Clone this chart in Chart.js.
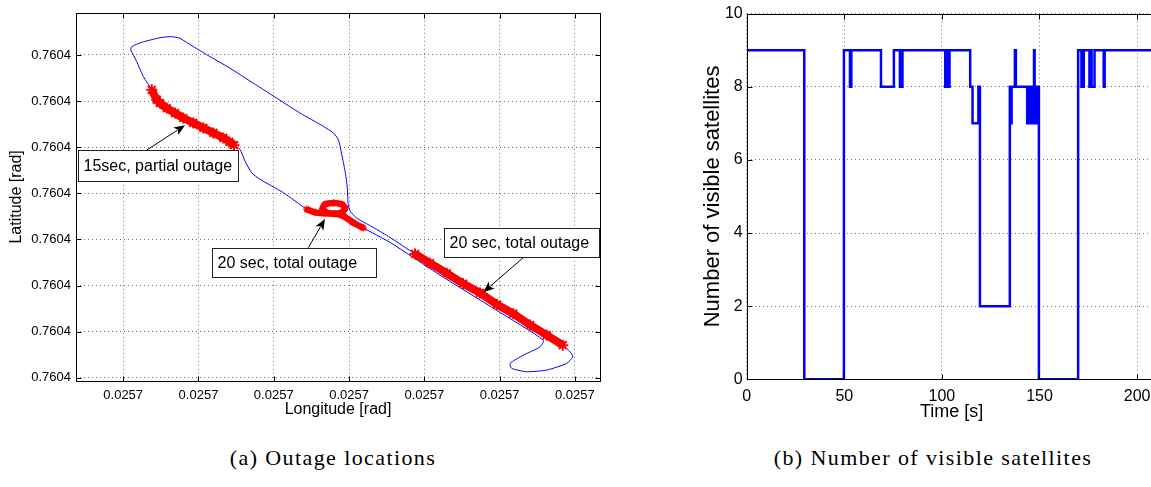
<!DOCTYPE html>
<html lang="en">
<head>
    <meta charset="UTF-8">
    <title>Outage locations and visible satellites</title>
    <script src="https://cdn.jsdelivr.net/npm/chart.js"></script>
    <style>
        html, body { margin: 0; padding: 0; background: #fff; overflow: hidden; }
        body { width: 1151px; height: 487px; position: relative; }
        canvas { position: absolute; top: 0; }
        #trackChart { left: 0; }
        #satChart { left: 680px; }
        .caption { position: absolute; top: 445px; font-family: 'Liberation Serif', 'DejaVu Serif', serif; font-size: 22px; letter-spacing: 1.4px; color: #000; white-space: nowrap; transform: translateX(-50%); }
    </style>
</head>
<body>

    <canvas id="trackChart" width="610" height="440"></canvas>
    <canvas id="satChart" width="500" height="440"></canvas>
    <div class="caption" style="left: 333px;">(a) Outage locations</div>
    <div class="caption" style="left: 933px;">(b) Number of visible satellites</div>

    <script>
        // ---- (a) trajectory, in grid units (lon tick 1..7, lat tick 1..8) ----
        const lonTicks = [1, 2, 3, 4, 5, 6, 7];
        const lonTickLabels = ['0.0257', '0.0257', '0.0257', '0.0257', '0.0257', '0.0257', '0.0257'];
        const latTicks = [1, 2, 3, 4, 5, 6, 7, 8];
        const latTickLabels = ['0.7604', '0.7604', '0.7604', '0.7604', '0.7604', '0.7604', '0.7604', '0.7604'];

        const trackLon = [1.100, 1.113, 1.246, 1.489, 1.644, 1.755, 1.931, 2.153, 2.419, 2.728, 3.039, 3.349, 3.658, 3.791,
            3.858, 3.903, 3.947, 3.977, 3.987, 4.013, 4.102, 4.323, 4.545, 4.877, 6.006, 6.839, 6.936, 6.972, 6.892,
            6.626, 6.361, 6.161, 6.139, 6.316, 6.537, 6.581, 5.962, 5.209, 4.545, 4.190, 4.053, 3.933, 3.827, 3.708,
            3.648, 3.681, 3.794, 3.907, 3.947, 3.907, 3.801, 3.681, 3.548, 3.438, 3.127, 2.817, 2.707, 2.618, 2.552,
            2.472, 2.330, 2.064, 1.798, 1.578, 1.445, 1.379, 1.267, 1.179, 1.100];
        const trackLat = [8.110, 8.181, 8.274, 8.375, 8.397, 8.360, 8.181, 7.965, 7.713, 7.389, 7.065, 6.741, 6.454, 6.310,
            6.167, 5.844, 5.483, 5.123, 4.799, 4.620, 4.462, 4.259, 4.043, 3.685, 2.545, 1.706, 1.561, 1.453, 1.311,
            1.166, 1.130, 1.203, 1.311, 1.490, 1.669, 1.814, 2.461, 3.225, 3.935, 4.246, 4.367, 4.501, 4.555, 4.576,
            4.663, 4.760, 4.792, 4.760, 4.674, 4.587, 4.555, 4.566, 4.587, 4.656, 5.015, 5.304, 5.446, 5.699, 5.951,
            6.044, 6.202, 6.418, 6.633, 6.849, 7.031, 7.246, 7.534, 7.857, 8.110];

        // outage stretches (red)
        const partialLon = [2.472, 2.410, 2.330, 2.197, 2.064, 1.931, 1.798, 1.688, 1.578, 1.489, 1.445, 1.379];
        const partialLat = [6.044, 6.115, 6.202, 6.310, 6.418, 6.526, 6.633, 6.741, 6.849, 6.957, 7.031, 7.246];
        const loopLon = [4.190, 4.053, 3.933, 3.827, 3.708, 3.648, 3.681, 3.794, 3.907, 3.947, 3.907, 3.801, 3.681, 3.548, 3.438];
        const loopLat = [4.246, 4.367, 4.501, 4.555, 4.576, 4.663, 4.760, 4.792, 4.760, 4.674, 4.587, 4.555, 4.566, 4.587, 4.656];
        const straightLon = [4.877, 5.076, 5.298, 5.514, 5.740, 5.966, 6.183, 6.405, 6.626, 6.839];
        const straightLat = [3.685, 3.484, 3.266, 3.042, 2.840, 2.586, 2.390, 2.144, 1.922, 1.706];

        // text boxes: box = [left, top, right, bottom], arrow from tail to tip (grid units)
        const notes = [
            { text: '15sec, partial outage', box: [0.406, 5.936, 2.525, 5.267], tail: [1.312, 5.936], tip: [1.821, 6.476] },
            { text: '20 sec, total outage', box: [2.185, 3.821, 4.359, 3.174], tail: [3.459, 3.821], tip: [3.681, 4.441] },
            { text: '20 sec, total outage', box: [5.262, 4.246, 7.315, 3.612], tail: [6.316, 3.605], tip: [5.784, 2.856] }
        ];

        // ---- (b) visible satellites, value holds from each time until the next ----
        const satTime = [0, 29.5, 49.8, 52.9, 53.6, 68.8, 75.4, 78.5, 79.8, 101.7, 102.2, 102.6, 103.1, 103.5, 103.9,
            114.5, 115.7, 118.7, 119.5, 134.8, 135.2, 135.7, 137.4, 137.9, 143.7, 144.2, 144.6, 145.1, 145.5, 146.0,
            146.4, 146.9, 147.2, 147.5, 147.9, 148.3, 148.7, 149.1, 149.7, 169.8, 171.5, 172.7, 175.6, 176.3, 176.7,
            178.2, 182.9, 183.4, 210];
        const satCount = [9, 0, 9, 8, 9, 8, 9, 8, 9, 8, 9, 8, 9, 8, 9,
            8, 7, 8, 2, 8, 7, 8, 9, 8, 7, 8, 7, 8, 7, 8,
            7, 8, 9, 8, 7, 8, 7, 8, 0, 9, 8, 9, 8, 9, 8,
            9, 8, 9, 9];
        const timeTicks = [0, 50, 100, 150, 200];
        const countTicks = [0, 2, 4, 6, 8, 10];

        Chart.defaults.font.family = "'Liberation Sans', Arial, sans-serif";
        Chart.defaults.color = '#000';

        const gridColor = 'rgba(0, 0, 0, 0.55)';
        const red = '#ff0000';
        const blue = '#0000ff';

        function toPts(xs, ys) {
            return xs.map((x, i) => ({ x: x, y: ys[i] }));
        }

        // box round the plot plus inward tick marks, like matlab
        const frame = {
            id: 'frame',
            afterDraw(chart) {
                const { ctx, chartArea: a, scales } = chart;
                const L = 5;
                ctx.save();
                ctx.strokeStyle = '#000';
                ctx.lineWidth = 1;
                ctx.setLineDash([]);
                const l = Math.round(a.left) + 0.5, t = Math.round(a.top) + 0.5;
                const r = Math.round(a.right) + 0.5, b = Math.round(a.bottom) + 0.5;
                ctx.strokeRect(l, t, r - l, b - t);
                ctx.beginPath();
                scales.x.ticks.forEach(tk => {
                    const x = Math.round(scales.x.getPixelForValue(tk.value)) + 0.5;
                    ctx.moveTo(x, b); ctx.lineTo(x, b - L);
                    ctx.moveTo(x, t); ctx.lineTo(x, t + L);
                });
                scales.y.ticks.forEach(tk => {
                    const y = Math.round(scales.y.getPixelForValue(tk.value)) + 0.5;
                    ctx.moveTo(l, y); ctx.lineTo(l + L, y);
                    ctx.moveTo(r, y); ctx.lineTo(r - L, y);
                });
                ctx.stroke();
                ctx.restore();
            }
        };

        const textBoxes = {
            id: 'textBoxes',
            afterDraw(chart) {
                const { ctx, scales: { x: xs, y: ys } } = chart;
                ctx.save();
                notes.forEach(n => {
                    // arrow
                    const x0 = xs.getPixelForValue(n.tail[0]), y0 = ys.getPixelForValue(n.tail[1]);
                    const x1 = xs.getPixelForValue(n.tip[0]), y1 = ys.getPixelForValue(n.tip[1]);
                    const ang = Math.atan2(y1 - y0, x1 - x0);
                    const hl = 11, hw = 4.5;
                    ctx.strokeStyle = '#000';
                    ctx.lineWidth = 1;
                    ctx.beginPath();
                    ctx.moveTo(x0, y0);
                    ctx.lineTo(x1 - Math.cos(ang) * hl * 0.8, y1 - Math.sin(ang) * hl * 0.8);
                    ctx.stroke();
                    ctx.fillStyle = '#000';
                    ctx.beginPath();
                    ctx.moveTo(x1, y1);
                    ctx.lineTo(x1 - Math.cos(ang) * hl - Math.sin(ang) * hw, y1 - Math.sin(ang) * hl + Math.cos(ang) * hw);
                    ctx.lineTo(x1 - Math.cos(ang) * hl * 0.75, y1 - Math.sin(ang) * hl * 0.75);
                    ctx.lineTo(x1 - Math.cos(ang) * hl + Math.sin(ang) * hw, y1 - Math.sin(ang) * hl - Math.cos(ang) * hw);
                    ctx.closePath();
                    ctx.fill();

                    // box
                    const bl = Math.round(xs.getPixelForValue(n.box[0])) + 0.5;
                    const bt = Math.round(ys.getPixelForValue(n.box[1])) + 0.5;
                    const br = Math.round(xs.getPixelForValue(n.box[2])) + 0.5;
                    const bb = Math.round(ys.getPixelForValue(n.box[3])) + 0.5;
                    ctx.fillStyle = '#fff';
                    ctx.fillRect(bl, bt, br - bl, bb - bt);
                    ctx.strokeStyle = '#222';
                    ctx.strokeRect(bl, bt, br - bl, bb - bt);
                    ctx.fillStyle = '#000';
                    ctx.font = "16px 'Liberation Sans', Arial, sans-serif";
                    ctx.textAlign = 'left';
                    ctx.textBaseline = 'middle';
                    ctx.fillText(n.text, bl + 5, (bt + bb) / 2 + 1);
                });
                ctx.restore();
            }
        };

        const outageStyle = {
            showLine: true, borderColor: red, borderWidth: 8,
            pointStyle: 'star', pointRadius: 5.5, pointBorderWidth: 2,
            pointBorderColor: red, pointBackgroundColor: red, order: 0
        };

        new Chart(document.getElementById('trackChart'), {
            type: 'scatter',
            data: {
                datasets: [
                    Object.assign({}, outageStyle, { data: toPts(partialLon, partialLat), tension: 0.2 }),
                    Object.assign({}, outageStyle, { data: toPts(loopLon, loopLat), tension: 0.2, borderWidth: 6.5, pointRadius: 3.5, pointBorderWidth: 1.5 }),
                    Object.assign({}, outageStyle, { data: toPts(straightLon, straightLat), tension: 0 }),
                    { data: toPts(trackLon, trackLat), showLine: true, borderColor: blue, borderWidth: 1, tension: 0.2,
                      pointRadius: 0, order: 1 }
                ]
            },
            options: {
                responsive: false,
                animation: false,
                layout: { padding: { left: 0, top: 11, right: 10, bottom: 0 } },
                plugins: { legend: { display: false }, tooltip: { enabled: false } },
                scales: {
                    x: {
                        type: 'linear', min: 0.373, max: 7.334,
                        afterBuildTicks: s => { s.ticks = lonTicks.map(v => ({ value: v })); },
                        afterFit: s => { s.height = 59; },
                        ticks: { callback: (v, i) => lonTickLabels[i], font: { size: 13 }, padding: 7, maxRotation: 0, autoSkip: false },
                        grid: { color: gridColor, drawTicks: false },
                        border: { display: false, dash: [1, 3] },
                        title: { display: true, text: 'Longitude [rad]', font: { size: 16 }, padding: { top: 0, bottom: 21 } }
                    },
                    y: {
                        type: 'linear', min: 0.929, max: 8.915,
                        afterBuildTicks: s => { s.ticks = latTicks.map(v => ({ value: v })); },
                        afterFit: s => { s.width = 76; },
                        ticks: { callback: (v, i) => latTickLabels[i], font: { size: 13 }, padding: 5, autoSkip: false },
                        grid: { color: gridColor, drawTicks: false },
                        border: { display: false, dash: [1, 3] },
                        title: { display: true, text: 'Latitude [rad]', font: { size: 16 }, padding: { top: 7, bottom: 0 } }
                    }
                }
            },
            plugins: [frame, textBoxes]
        });

        new Chart(document.getElementById('satChart'), {
            type: 'scatter',
            data: {
                datasets: [
                    { data: toPts(satTime, satCount), showLine: true, stepped: 'before', borderColor: blue, borderWidth: 2.5, pointRadius: 0 }
                ]
            },
            options: {
                responsive: false,
                animation: false,
                layout: { padding: { left: 0, top: 10, right: 23.4, bottom: 0 } },
                plugins: { legend: { display: false }, tooltip: { enabled: false } },
                scales: {
                    x: {
                        type: 'linear', min: 0, max: 210,
                        afterBuildTicks: s => { s.ticks = timeTicks.map(v => ({ value: v })); },
                        afterFit: s => { s.height = 60.7; },
                        ticks: { font: { size: 16 }, padding: 8, maxRotation: 0, autoSkip: false },
                        grid: { color: gridColor, drawTicks: false },
                        border: { display: false, dash: [1, 3] },
                        title: { display: true, text: 'Time [s]', font: { size: 18 }, padding: { top: 0, bottom: 17 } }
                    },
                    y: {
                        type: 'linear', min: 0, max: 10,
                        afterBuildTicks: s => { s.ticks = countTicks.map(v => ({ value: v })); },
                        afterFit: s => { s.width = 66.7; },
                        ticks: { font: { size: 16 }, padding: 4, autoSkip: false },
                        grid: { color: gridColor, drawTicks: false },
                        border: { display: false, dash: [1, 3] },
                        title: { display: true, text: 'Number of visible satellites', font: { size: 22 }, padding: { top: 20, bottom: 0 } }
                    }
                }
            },
            plugins: [frame]
        });
    </script>

</body>
</html>
